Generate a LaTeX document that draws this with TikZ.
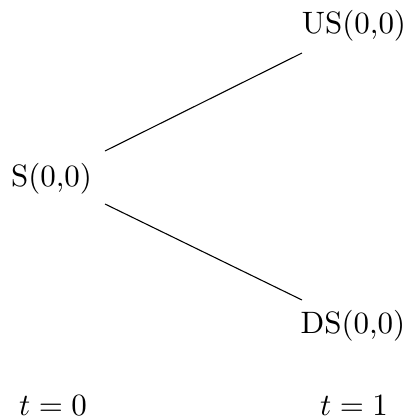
\documentclass[tikz,border=0pt]{standalone}
\begin{document}
\begin{tikzpicture}[x=0.323pt,y=-0.323pt,
  lbl/.style={inner sep=0pt,anchor=center},
  edge/.style={line width=0.35pt}]
\useasboundingbox (0,0) rectangle (407,418);
\node[lbl] (S) at (51.5,178.5) {S(0,0)};
\node[lbl] (US) at (354,26) {US(0,0)};
\node[lbl] (DS) at (353,326) {DS(0,0)};
\node[lbl] (t0) at (53,406) {$t=0$};
\node[lbl] (t1) at (354,406) {$t=1$};
\draw[edge] ([shift={(53.5,-27.5)}]S.center) -- ([shift={(-52,27)}]US.center);
\draw[edge] ([shift={(53.5,25.5)}]S.center) -- ([shift={(-51,-26)}]DS.center);
\end{tikzpicture}
\end{document}
